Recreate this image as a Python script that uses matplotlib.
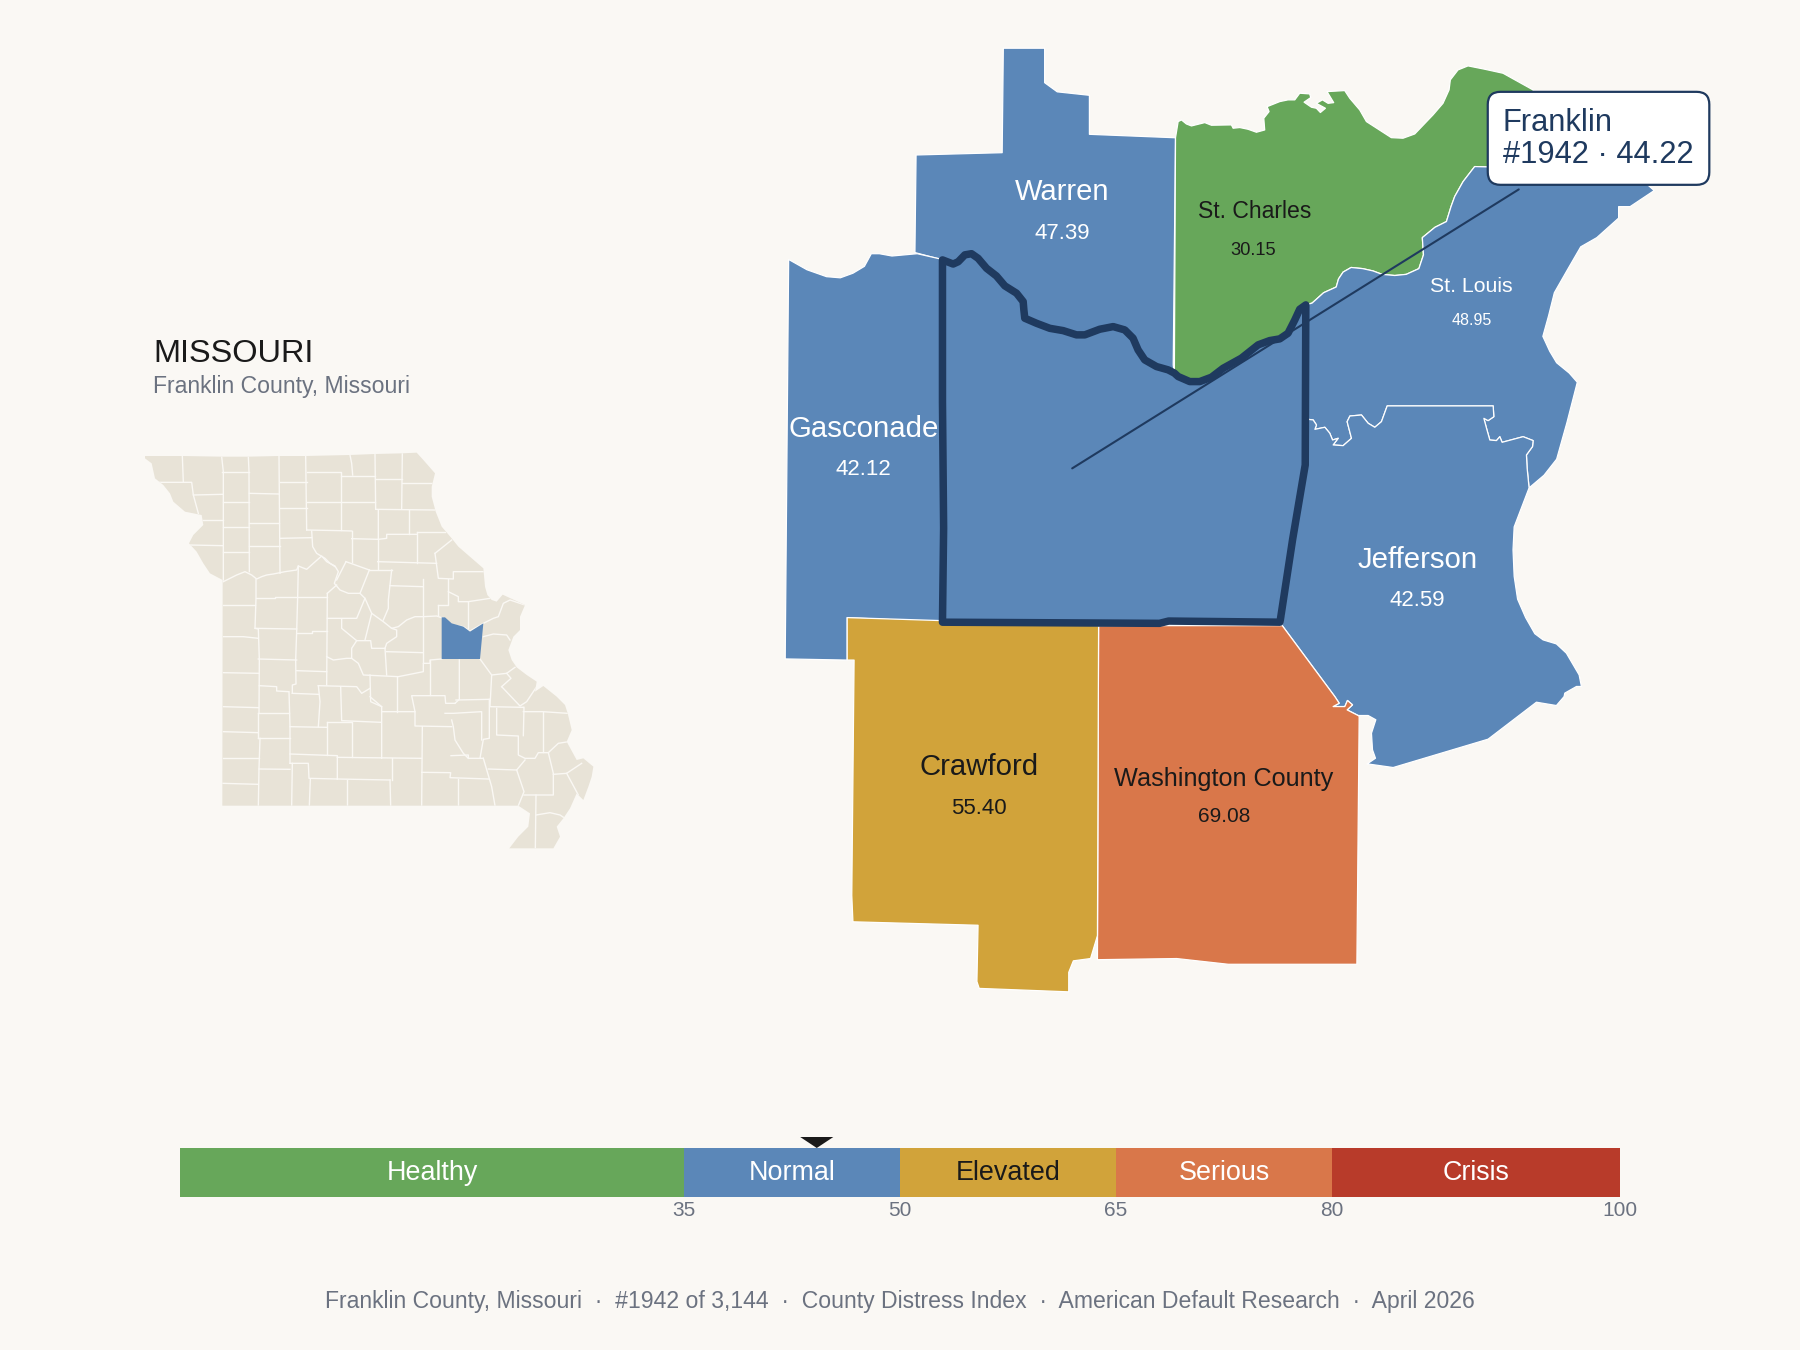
import matplotlib
matplotlib.use("Agg")
import matplotlib.pyplot as plt
from matplotlib.patches import Polygon, FancyBboxPatch

plt.rcParams['font.family'] = ['Liberation Sans', 'DejaVu Sans']

BG = '#faf8f4'; BEIGE = '#e8e3d7'; NAVY = '#1f3a5f'; GRAY = '#6b7280'; INK = '#1a1a1a'
GREEN = '#67a75a'; BLUE = '#5b87b8'; GOLD = '#d1a33a'; ORANGE = '#d9774a'; RED = '#b83b2a'

# ---- severity scale
tier_edges = [0, 35, 50, 65, 80, 100]
tier_names = ['Healthy', 'Normal', 'Elevated', 'Serious', 'Crisis']
tier_colors = [GREEN, BLUE, GOLD, ORANGE, RED]
tier_text = ['white', 'white', INK, 'white', 'white']
tick_values = [35, 50, 65, 80, 100]
focus_score = 44.22

# ---- detail map geometry
river_west = [(821,226.4),(830.3,230),(834.7,228),(840.5,222),(846.3,221),(852,225),(859.4,233.7),(868,240.4),(875.3,249),(885.5,255.4),(891.3,262.7),(891.9,270),(892.7,277.2),(902.9,281.6),(914.5,286),(926.1,288),(937.7,291.7),(945,291.7),(958,286.8),(969.7,284.5),(979.8,287.4),(987,294.6),(991.4,304.8),(997.2,313.5),(1007.4,319.3),(1017.6,322.2),(1023,325)]
river_east = [(1026.3,328),(1036.4,332.4),(1045.1,332.4),(1055.3,328.6),(1065.5,320.8),(1081.4,312),(1096,300.4),(1106,296.7),(1114.8,295.2),(1122,290.3),(1127.9,278.7),(1132.2,269.4),(1137.5,265.6)]
charles_louis = [(1143,264),(1153,255),(1164,250),(1166,243),(1170,237),(1177,233),(1187,234),(1196,236),(1204,239),(1215,240),(1225,239),(1236,234),(1240,222),(1239,207),(1250,198),(1260,193),(1264,180),(1267.2,171.2),(1274.5,158.2),(1284.6,145.1)]
louis_jeff = [(1139.6,365.3),(1143.9,365.8),(1146.8,370.2),(1145.4,374),(1154.1,372.2),(1158.4,377.4),(1160.8,383.3),(1165.7,381.8),(1161.3,387.6),(1170,388.2),(1177.3,381.8),(1173.5,367.3),(1175.9,362.4),(1186,361.5),(1191.8,368.7),(1197.6,372.2),(1203.4,367.3),(1208.4,353.6),(1300.7,353.6),(1301.3,363),(1296.3,366.4),(1292.6,364.4),(1294.9,373),(1297.8,383.3),(1303.6,383.8),(1306.5,380.4),(1308.5,385.3),(1326.8,380.4),(1335.5,383.8),(1335,389),(1329.7,396.3),(1330.3,407.9),(1332,425)]
charles_top = [(1024,120),(1026.3,105.9),(1029.2,104.5),(1033.5,108),(1037.9,109.7),(1049.5,106.8),(1055.3,109.1),(1072.7,108.8),(1074.2,111.7),(1080,111.1),(1087.2,112.6),(1094.5,115.2),(1101.7,113.2),(1100.9,103),(1105.5,97.2),(1103.8,92.9),(1114.8,88.5),(1122,87),(1127.9,87),(1132.2,81.2),(1140.9,81.8),(1141.8,85),(1136,89),(1142.4,93.4),(1146.7,94.3),(1150.2,98),(1154.6,94.3),(1146.7,90),(1152,87),(1156.9,90),(1161.8,89.4),(1156,79.8),(1171.4,78.9),(1175.8,85.6),(1184.5,95.8),(1190.3,105.9),(1212,119.9),(1222.2,120.4),(1232.4,116.7),(1248.3,100.1),(1257,90),(1262.3,78.3),(1263.4,69.6),(1270.1,60.9),(1278.8,57.4),(1293.3,60.3),(1309.3,63.8),(1335.4,78.3),(1345,110),(1320,146)]
louis_east = [(1320,146),(1400,130),(1441,166),(1420,180),(1410,180),(1410,190),(1391,207),(1377,215),(1366,234),(1354,255),(1349,275),(1344,293),(1350,306),(1356,316),(1367,325),(1374,333),(1365,368),(1356,400),(1345,414),(1332,425)]
jeff_east = [(1332,425),(1319,459),(1318,479),(1319,502),(1322,522),(1329,538),(1337,552),(1344.2,557.4),(1355.8,560.9),(1364.5,569),(1375.6,587.9),(1377.6,598),(1373.3,598),(1363.1,603.8),(1362.5,606.8),(1355.8,614.6),(1338.4,611.7),(1296.3,643.9),(1213.6,668.6),(1191,665.4),(1198.2,660.5),(1195.6,653.2),(1194.7,638.7),(1198.5,627),(1191.8,623.3),(1183.1,623.3),(1173.5,618.4),(1178.2,614),(1173.8,610.2),(1171.5,615.5),(1161.3,615.5),(1166.6,612.6),(1162.8,606.8),(1117,545)]
franklin_rest = [(1137,405),(1126,470),(1115,542),(1018,541),(1010,543),(821,542),(822,460),(821,350)]

warren = [(874,42),(910,42),(910,72),(921,80),(949,83),(949,117),(1024,120),(1022,318)] + river_west[::-1] + [(797,220),(798,135),(873,133)]
gasconade = [(687,226),(703,235),(720,241),(732,242),(743,238),(753,232),(759,221),(766,221),(777,223),(799,221),(821,226),(822,542),(738,538),(738,575),(684,574)]
franklin = river_west + river_east + franklin_rest
crawford = [(738,538),(957,545),(956,815),(950,835),(935,837),(931,847),(931,864),(853,861),(851,855),(852,806),(743,803),(742,780),(744,575),(738,575)]
washington = [(957,545),(1117,545),(1162.8,606.8),(1166.6,612.6),(1161.3,615.5),(1171.5,615.5),(1173.8,610.2),(1178.2,614),(1173.5,618.4),(1183.1,623.3),(1184,624),(1182,840),(1070,840),(1025,835),(956,836)]
st_charles = charles_top + charles_louis[::-1] + river_east[::-1] + [(1023,325)]
st_louis = [(1137.5,265.6)] + charles_louis + louis_east + louis_jeff[::-1]
jefferson = louis_jeff + jeff_east + [(1126,470),(1137,405)]

detail_shapes = [warren, gasconade, st_charles, st_louis, jefferson, washington, crawford, franklin]
detail_colors = [BLUE, BLUE, GREEN, BLUE, BLUE, ORANGE, GOLD, BLUE]
county_names = ['Warren', 'St. Charles', 'St. Louis', 'Gasconade', 'Jefferson', 'Crawford', 'Washington County']
county_scores = ['47.39', '30.15', '48.95', '42.12', '42.59', '55.40', '69.08']
county_name_xy = [(925,167),(1093,184.5),(1282,250),(752,374),(1235,488),(853,668),(1066,679)]
county_value_xy = [(925,203),(1092,218),(1282,279),(752,409),(1235,523),(853,704),(1066,711.5)]
county_name_pt = [21, 16.6, 15.3, 21.2, 21.2, 21.2, 18.2]
county_value_pt = [16, 13.2, 11.5, 16, 16, 16, 15]
county_ink = ['white', INK, 'white', 'white', 'white', INK, INK]

# ---- state locator map
state_outline = [(45,78),(157,78),(275,80),(355,80),(447,78),(527,78),(660,75),(735,72),(817,70),(860,68),(880,90),(915,130),(905,170),(905,200),(917,245),(935,290),(965,325),(985,350),(1060,415),(1065,470),(1072,495),(1085,510),(1100,515),(1118,494),(1185,525),(1170,560),(1170,600),(1150,620),(1135,660),(1145,690),(1160,712),(1190,735),(1220,755),(1215,785),(1240,768),(1280,800),(1305,825),(1313,850),(1325,900),(1310,935),(1340,990),(1360,985),(1390,1010),(1385,1040),(1375,1070),(1360,1110),(1340,1090),(1320,1135),(1300,1165),(1280,1190),(1290,1220),(1270,1255),(1138,1255),(1165,1220),(1195,1190),(1200,1150),(1165,1127),(277,1127),(278,450),(240,430),(220,400),(200,365),(177,340),(190,315),(220,285),(215,255),(190,250),(165,245),(130,215),(120,190),(100,165),(75,145),(65,100),(45,85)]
state_focus = [(935,562),(945,562),(965,580),(1000,590),(1020,605),(1060,580),(1050,687),(935,687)]
state_lines = [
 [(157,78),(160,157)],[(275,80),(280,125),(280,450)],[(355,80),(357,125),(358,425)],[(447,78),(450,430)],[(527,78),(530,300)],[(660,75),(665,100),(668,135)],[(735,72),(737,238)],[(817,70),(815,238)],
 [(277,125),(357,125)],[(530,127),(632,127),(632,137),(735,137)],[(737,148),(815,148)],[(815,160),(905,160)],[(65,157),(185,157),(190,195),(277,193)],[(450,157),(530,157)],[(190,195),(205,250)],
 [(358,190),(447,192)],[(280,215),(358,215)],[(450,235),(530,235)],[(530,217),(735,217)],[(737,238),(917,240)],[(632,137),(632,300)],[(530,300),(632,302),(665,303)],
 [(358,280),(447,280)],[(215,270),(280,270)],[(280,290),(358,290)],[(358,347),(450,347)],[(177,345),(280,347)],[(280,367),(358,367)],[(450,325),(545,323)],
 [(745,240),(745,328),(665,326)],[(665,303),(665,395)],[(838,240),(838,312)],[(745,328),(770,325),(770,313),(862,313)],[(862,307),(945,307)],[(862,307),(862,400)],[(743,328),(743,418)],[(743,395),(920,400)],[(915,370),(965,330)],[(915,370),(925,445),(970,447),(970,425),(1060,425)],
 [(545,303),(548,350),(560,370),(585,385),(600,400),(615,410)],
 [(280,455),(300,445),(320,435),(345,425),(365,435),(380,447),(395,440),(410,435),(430,432),(465,425),(500,420),(505,408),(530,418),(550,400),(575,378),(590,395),(615,408),(625,425),(613,460),(630,480),(655,490),(690,490),(705,505),(725,550),(760,575),(785,595),(805,590),(830,570),(855,560),(880,560),(920,558),(940,565),(965,585),(1000,590),(1020,603),(1060,580),(1090,565),(1105,560),(1120,520),(1140,510),(1185,525)],
 [(378,447),(378,505),(375,595),(385,597),(388,690),(387,850)],[(505,408),(503,500),(500,605),(497,690),(498,762),(487,765),(487,790)],[(280,525),(375,525)],[(378,505),(435,505),(435,500),(503,500),(592,500)],[(592,490),(620,465)],[(592,490),(590,765)],[(592,565),(680,565),(705,505)],
 [(375,595),(500,597)],[(500,608),(545,608),(545,603),(590,603)],[(280,620),(340,620),(385,625)],[(385,687),(500,690)],[(500,722),(590,725)],[(388,767),(440,770),(440,783),(475,785)],
 [(280,728),(388,730)],[(280,830),(385,833)],[(385,850),(477,850)],[(477,785),(480,890),(480,1000)],[(385,850),(385,925)],[(280,905),(385,908)],[(385,925),(480,925)],[(390,925),(387,1015),(385,1127)],[(278,985),(387,985)],[(278,1060),(385,1063)],[(387,1017),(480,1018)],
 [(487,790),(565,793)],[(565,767),(680,770),(695,790),(720,775)],[(565,767),(570,815),(565,890)],[(632,770),(635,872),(753,877)],[(720,800),(755,830),(755,985)],[(590,875),(667,875),(667,980)],[(590,875),(590,975)],[(480,890),(590,892)],[(480,972),(622,977),(622,1047)],[(480,1000),(535,1000),(537,1045),(622,1047)],[(487,1000),(485,1127)],[(541,1047),(538,1127)],[(622,1047),(780,1050)],[(650,1050),(650,1127)],[(780,1050),(782,1127)],[(622,982),(875,985)],[(787,985),(787,1050)],
 [(755,845),(855,845),(855,888),(965,890)],[(855,845),(845,797),(945,797),(947,820),(975,820)],[(877,890),(875,1127)],[(875,1027),(962,1028),(960,1043),(1075,1047)],[(963,977),(1015,975),(1015,985),(1060,985)],[(983,1047),(983,1127)],[(1075,1017),(1160,1020)],[(1060,985),(1085,1070),(1095,1127)],[(1160,1020),(1182,1085),(1165,1127)],[(1185,990),(1160,1020)],
 [(635,567),(635,595),(680,632),(722,632),(725,655),(765,655)],[(680,632),(665,655),(665,685)],[(590,680),(610,690),(650,685),(665,685),(685,700),(700,735),(805,740),(880,725),(880,700),(900,700),(900,690),(935,687)],
 [(720,735),(722,815),(755,830)],[(800,740),(800,845)],[(765,655),(770,735)],[(770,665),(880,668)],[(765,655),(770,640),(800,620),(800,600),(785,595)],[(725,550),(705,630)],[(880,447),(880,700)],[(780,467),(878,470)],[(785,420),(775,510),(775,535),(760,570)],[(718,420),(785,420)],[(718,420),(690,490)],[(648,395),(718,420)],[(648,395),(620,450)],
 [(923,525),(955,525),(955,447)],[(923,525),(923,555)],[(955,485),(985,500),(985,515),(1015,515)],[(1015,515),(1015,595)],[(1015,515),(1080,505)],[(1050,687),(1085,735),(1130,730),(1155,712)],[(1085,735),(1080,830),(1180,832)],[(988,690),(988,808),(975,820)],[(900,690),(900,795)],[(1078,808),(978,810)],[(1078,808),(1078,925),(1060,928),(1050,985)],
 [(1115,770),(1170,828),(1190,815),(1220,770)],[(1115,770),(1143,745),(1130,730)],[(1100,835),(1100,915),(1165,918),(1165,975),(1185,985),(1215,985),(1225,968),(1255,968),(1270,1030),(1270,1095),(1182,1095)],[(1182,832),(1180,917)],[(1180,845),(1238,845),(1313,850)],[(1238,845),(1238,965)],[(1255,968),(1285,940),(1315,935)],[(1270,1033),(1310,1030),(1355,1000)],[(1310,1030),(1345,1095)],[(1218,1095),(1216,1255)],[(1218,1155),(1260,1148),(1290,1155),(1305,1165)],
 [(945,850),(970,850),(1055,845),(1055,930)],[(965,870),(970,890),(975,930),(1000,970),(1015,985)],[(1060,620),(1090,612),(1130,615),(1140,630)],
]

leader_x = [934, 1323]
leader_y = [408, 165]
footer = 'Franklin County, Missouri  ·  #1942 of 3,144  ·  County Distress Index  ·  American Default Research  ·  April 2026'
W, H = 1800, 1350

fig = plt.figure(figsize=(18, 13.5), dpi=100, facecolor=BG)

# full-page axes, in reference display units
ax = fig.add_axes([0, 0, 1, 1], facecolor='none')
ax.set_xlim(0, 1568); ax.set_ylim(1176, 0); ax.axis('off')

for shape, color in zip(detail_shapes, detail_colors):
    ax.add_patch(Polygon(shape, closed=True, facecolor=color, edgecolor='white', lw=0.9, zorder=2, joinstyle='round'))
ax.add_patch(Polygon(franklin, closed=True, facecolor='none', edgecolor=NAVY, lw=5.4, zorder=4, joinstyle='round'))
ax.plot(leader_x, leader_y, color=NAVY, lw=1.5, zorder=5, solid_capstyle='round')

for name, val, nxy, vxy, npt, vpt, ink in zip(county_names, county_scores, county_name_xy, county_value_xy, county_name_pt, county_value_pt, county_ink):
    ax.text(*nxy, name, ha='center', va='center', fontsize=npt, color=ink, zorder=6)
    ax.text(*vxy, val, ha='center', va='center', fontsize=vpt, color=ink, zorder=6)

ax.add_patch(FancyBboxPatch((1296+11, 80+11), 193-22, 81-22, boxstyle='round,pad=11,rounding_size=11',
                            facecolor='white', edgecolor=NAVY, lw=1.6, zorder=7))
ax.text(1309, 107, 'Franklin', ha='left', va='center', fontsize=22.2, color=NAVY, zorder=8)
ax.text(1309, 135, '#1942 · 44.22', ha='left', va='center', fontsize=22.2, color=NAVY, zorder=8)

ax.text(134, 308, 'MISSOURI', ha='left', va='center', fontsize=23.4, color=INK)
ax.text(133, 337, 'Franklin County, Missouri', ha='left', va='center', fontsize=16.55, color=GRAY)
ax.text(784, 1134, footer, ha='center', va='center', fontsize=16.6, color=GRAY)

# locator map
mx = fig.add_axes([130/W, 1-(430+440)/H, 480/W, 440/H], facecolor='none')
mx.set_xlim(0, 1440); mx.set_ylim(1320, 0); mx.axis('off')
outline = Polygon(state_outline, closed=True, facecolor=BEIGE, edgecolor='none', zorder=1)
mx.add_patch(outline)
for line in state_lines:
    xs, ys = zip(*line)
    l, = mx.plot(xs, ys, color=BG, lw=1.0, zorder=2, solid_joinstyle='round')
    l.set_clip_path(outline)
mx.add_patch(Polygon(state_focus, closed=True, facecolor=BLUE, edgecolor='none', zorder=3))

# severity bar
bx = fig.add_axes([180/W, 1-1197/H, 1440/W, 49/H], facecolor='none')
bx.set_xlim(0, 100); bx.set_ylim(0, 49); bx.axis('off')
for lo, hi, name, color, ink in zip(tier_edges[:-1], tier_edges[1:], tier_names, tier_colors, tier_text):
    bx.barh(24.5, hi-lo, left=lo, height=49, color=color, lw=0)
    bx.text((lo+hi)/2, 16.5, name, ha='center', va='baseline', fontsize=19.4, color=ink)
for t in tick_values:
    bx.text(t, -19, str(t), ha='center', va='baseline', fontsize=15, color=GRAY, clip_on=False)
bx.add_patch(Polygon([(focus_score-1.15, 60), (focus_score+1.15, 60), (focus_score, 49)], closed=True,
                     facecolor=INK, edgecolor='none', clip_on=False))

fig.savefig('out.png', dpi=100, facecolor=BG)
